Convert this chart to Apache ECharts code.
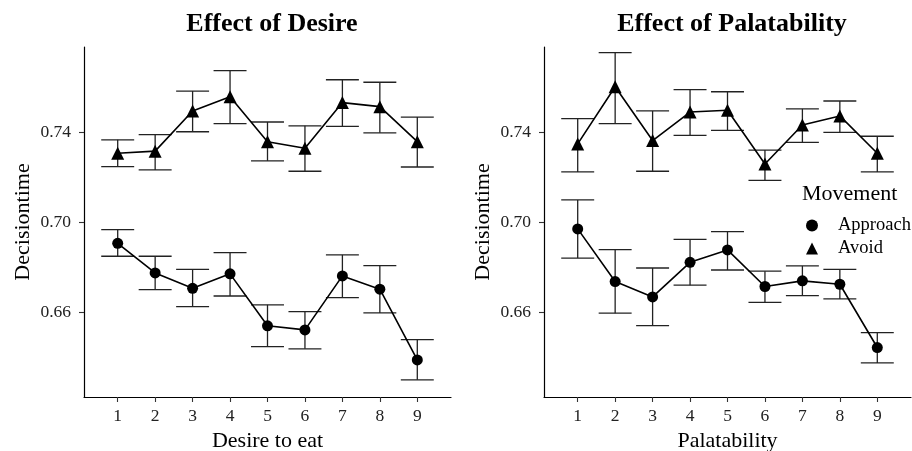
<!DOCTYPE html>
<html>
<head>
<meta charset="utf-8">
<script src="https://cdn.jsdelivr.net/npm/echarts@6/dist/echarts.min.js"></script>
<style>html,body{margin:0;padding:0;background:#fff}#c{width:912px;height:451px}</style>
</head>
<body>
<div id="c"></div>
<script>
const categories = [1, 2, 3, 4, 5, 6, 7, 8, 9];
const yTicks = [0.66, 0.70, 0.74];

// Effect of Desire
const desireApproachMean = [0.6907, 0.6776, 0.6708, 0.6772, 0.6542, 0.6524, 0.6763, 0.6704, 0.6391];
const desireApproachLow  = [0.6850, 0.6702, 0.6627, 0.6674, 0.6450, 0.6440, 0.6667, 0.6599, 0.6303];
const desireApproachHigh = [0.6968, 0.6850, 0.6792, 0.6866, 0.6635, 0.6605, 0.6856, 0.6808, 0.6481];
const desireAvoidMean = [0.7306, 0.7315, 0.7493, 0.7556, 0.7357, 0.7328, 0.7530, 0.7512, 0.7357];
const desireAvoidLow  = [0.7247, 0.7232, 0.7401, 0.7437, 0.7272, 0.7226, 0.7425, 0.7396, 0.7245];
const desireAvoidHigh = [0.7365, 0.7388, 0.7581, 0.7671, 0.7444, 0.7427, 0.7631, 0.7620, 0.7466];

// Effect of Palatability
const palApproachMean = [0.6971, 0.6738, 0.6670, 0.6823, 0.6878, 0.6716, 0.6741, 0.6726, 0.6446];
const palApproachLow  = [0.6842, 0.6598, 0.6543, 0.6722, 0.6789, 0.6646, 0.6676, 0.6661, 0.6378];
const palApproachHigh = [0.7099, 0.6879, 0.6798, 0.6925, 0.6959, 0.6784, 0.6807, 0.6792, 0.6512];
const palAvoidMean = [0.7347, 0.7600, 0.7362, 0.7488, 0.7496, 0.7258, 0.7431, 0.7471, 0.7306];
const palAvoidLow  = [0.7223, 0.7437, 0.7226, 0.7385, 0.7407, 0.7186, 0.7354, 0.7398, 0.7223];
const palAvoidHigh = [0.7459, 0.7751, 0.7493, 0.7587, 0.7578, 0.7320, 0.7502, 0.7537, 0.7381];

const FONT = '"Liberation Serif", "DejaVu Serif", serif';
const INK = '#000';

function pts(means) { return categories.map((c, i) => [c, means[i]]); }
function bars(lo, hi) { return categories.map((c, i) => [c, lo[i], hi[i]]); }

function errSeries(name, gi, lo, hi) {
  return {
    name: name, type: 'custom', xAxisIndex: gi, yAxisIndex: gi, z: 1, silent: true,
    data: bars(lo, hi),
    renderItem: function (params, api) {
      const x = api.value(0);
      const a = api.coord([x, api.value(1)]);
      const b = api.coord([x, api.value(2)]);
      const hw = api.size([0.44, 0])[0];
      const st = { stroke: '#222', lineWidth: 1.3 };
      return { type: 'group', children: [
        { type: 'line', shape: { x1: a[0], y1: a[1], x2: b[0], y2: b[1] }, style: st },
        { type: 'line', shape: { x1: a[0] - hw, y1: a[1], x2: a[0] + hw, y2: a[1] }, style: st },
        { type: 'line', shape: { x1: b[0] - hw, y1: b[1], x2: b[0] + hw, y2: b[1] }, style: st }
      ]};
    }
  };
}
function lineSeries(name, gi, means, symbol, size) {
  return {
    name: name, type: 'line', xAxisIndex: gi, yAxisIndex: gi, z: 3,
    data: pts(means), symbol: symbol, symbolSize: size,
    itemStyle: { color: INK }, lineStyle: { color: INK, width: 1.6 },
    emphasis: { disabled: true }, animation: false
  };
}
function xAxis(gi, name) {
  return {
    type: 'value', gridIndex: gi, min: 0.1, max: 9.9,
    name: name, nameLocation: 'middle', nameGap: 33,
    nameTextStyle: { fontFamily: FONT, fontSize: 22, color: '#000' },
    axisLine: { lineStyle: { color: '#000', width: 1.2 } },
    axisTick: { show: true, customValues: categories, length: 5, lineStyle: { color: '#333', width: 1.1 } },
    axisLabel: { customValues: categories, fontFamily: FONT, fontSize: 17.5, color: '#222', margin: 10 },
    splitLine: { show: false }
  };
}
function yAxis(gi) {
  return {
    type: 'value', gridIndex: gi, min: 0.6227, max: 0.7776,
    name: 'Decisiontime', nameLocation: 'middle', nameGap: 50, nameRotate: 90,
    nameTextStyle: { fontFamily: FONT, fontSize: 22, color: '#000' },
    axisLine: { show: true, lineStyle: { color: '#000', width: 1.2 } },
    axisTick: { show: true, customValues: yTicks, length: 5, lineStyle: { color: '#333', width: 1.1 } },
    axisLabel: { customValues: yTicks, fontFamily: FONT, fontSize: 17.5, color: '#222', margin: 13,
      formatter: v => v.toFixed(2) },
    splitLine: { show: false }
  };
}

const chart = echarts.init(document.getElementById('c'), null, { renderer: 'canvas' });
chart.setOption({
  animation: false,
  backgroundColor: '#fff',
  title: [
    { text: 'Effect of Desire', left: 267, top: 6, textAlign: 'center',
      textStyle: { fontFamily: FONT, fontSize: 26, fontWeight: 'bold', color: '#000' } },
    { text: 'Effect of Palatability', left: 727, top: 6, textAlign: 'center',
      textStyle: { fontFamily: FONT, fontSize: 26, fontWeight: 'bold', color: '#000' } },
    { text: 'Movement', left: 797, top: 178,
      textStyle: { fontFamily: FONT, fontSize: 22, fontWeight: 'normal', color: '#000' } }
  ],
  legend: {
    orient: 'vertical', left: 801, top: 211, itemWidth: 12, itemHeight: 12, itemGap: 4,
    data: [{ name: 'Approach', icon: 'circle' }, { name: 'Avoid', icon: 'triangle' }],
    textStyle: { fontFamily: FONT, fontSize: 18.5, lineHeight: 19, color: '#000', padding: [0, 0, 0, 15] },
    itemStyle: { color: '#000' }
  },
  grid: [
    { left: 84, right: 461, top: 47, bottom: 54, outerBoundsMode: 'none', containLabel: false },
    { left: 544, right: 1, top: 47, bottom: 54, outerBoundsMode: 'none', containLabel: false }
  ],
  xAxis: [xAxis(0, 'Desire to eat'), xAxis(1, 'Palatability')],
  yAxis: [yAxis(0), yAxis(1)],
  series: [
    errSeries('Approach', 0, desireApproachLow, desireApproachHigh),
    errSeries('Avoid', 0, desireAvoidLow, desireAvoidHigh),
    lineSeries('Approach', 0, desireApproachMean, 'circle', 11),
    lineSeries('Avoid', 0, desireAvoidMean, 'triangle', 13),
    errSeries('Approach', 1, palApproachLow, palApproachHigh),
    errSeries('Avoid', 1, palAvoidLow, palAvoidHigh),
    lineSeries('Approach', 1, palApproachMean, 'circle', 11),
    lineSeries('Avoid', 1, palAvoidMean, 'triangle', 13)
  ]
});
</script>
</body>
</html>
